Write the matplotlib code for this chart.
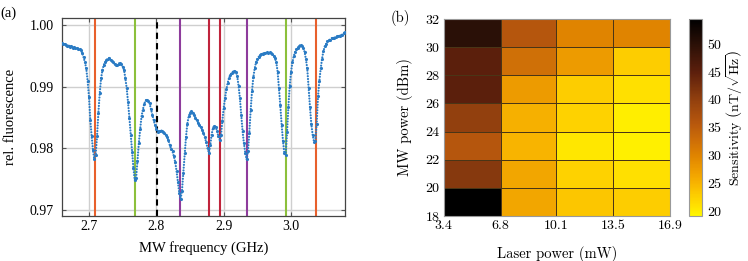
import matplotlib
matplotlib.use('Agg')
import matplotlib.pyplot as plt
import numpy as np
from matplotlib.colors import LinearSegmentedColormap, Normalize

# (a) ODMR spectrum
freq_ghz = [
  2.660, 2.662, 2.664, 2.666, 2.668, 2.670, 2.672, 2.674, 2.676, 2.678,
  2.680, 2.682, 2.684, 2.686, 2.688, 2.690, 2.692, 2.694, 2.696, 2.698,
  2.700, 2.702, 2.704, 2.706, 2.708, 2.710, 2.712, 2.714, 2.716, 2.718,
  2.720, 2.722, 2.724, 2.726, 2.728, 2.730, 2.732, 2.734, 2.736, 2.738,
  2.740, 2.742, 2.744, 2.746, 2.748, 2.750, 2.752, 2.754, 2.756, 2.758,
  2.760, 2.762, 2.764, 2.766, 2.768, 2.770, 2.772, 2.774, 2.776, 2.778,
  2.780, 2.782, 2.784, 2.786, 2.788, 2.790, 2.792, 2.794, 2.796, 2.798,
  2.800, 2.802, 2.804, 2.806, 2.808, 2.810, 2.812, 2.814, 2.816, 2.818,
  2.820, 2.822, 2.824, 2.826, 2.828, 2.830, 2.832, 2.834, 2.836, 2.838,
  2.840, 2.842, 2.844, 2.846, 2.848, 2.850, 2.852, 2.854, 2.856, 2.858,
  2.860, 2.862, 2.864, 2.866, 2.868, 2.870, 2.872, 2.874, 2.876, 2.878,
  2.880, 2.882, 2.884, 2.886, 2.888, 2.890, 2.892, 2.894, 2.896, 2.898,
  2.900, 2.902, 2.904, 2.906, 2.908, 2.910, 2.912, 2.914, 2.916, 2.918,
  2.920, 2.922, 2.924, 2.926, 2.928, 2.930, 2.932, 2.934, 2.936, 2.938,
  2.940, 2.942, 2.944, 2.946, 2.948, 2.950, 2.952, 2.954, 2.956, 2.958,
  2.960, 2.962, 2.964, 2.966, 2.968, 2.970, 2.972, 2.974, 2.976, 2.978,
  2.980, 2.982, 2.984, 2.986, 2.988, 2.990, 2.992, 2.994, 2.996, 2.998,
  3.000, 3.002, 3.004, 3.006, 3.008, 3.010, 3.012, 3.014, 3.016, 3.018,
  3.020, 3.022, 3.024, 3.026, 3.028, 3.030, 3.032, 3.034, 3.036, 3.038,
  3.040, 3.042, 3.044, 3.046, 3.048, 3.050, 3.052, 3.054, 3.056, 3.058,
  3.060, 3.062, 3.064, 3.066, 3.068, 3.070, 3.072, 3.074, 3.076, 3.078,
  3.080,
]
fluorescence = [
  0.9971, 0.9969, 0.9970, 0.9968, 0.9966, 0.9967, 0.9965, 0.9966, 0.9964, 0.9965,
  0.9963, 0.9964, 0.9962, 0.9961, 0.9960, 0.9955, 0.9948, 0.9940, 0.9930, 0.9910,
  0.9884, 0.9846, 0.9820, 0.9797, 0.9782, 0.9790, 0.9820, 0.9858, 0.9890, 0.9914,
  0.9927, 0.9936, 0.9940, 0.9944, 0.9946, 0.9947, 0.9944, 0.9942, 0.9940, 0.9937,
  0.9935, 0.9936, 0.9938, 0.9939, 0.9937, 0.9933, 0.9928, 0.9914, 0.9898, 0.9875,
  0.9850, 0.9822, 0.9794, 0.9768, 0.9748, 0.9752, 0.9780, 0.9808, 0.9831, 0.9852,
  0.9863, 0.9872, 0.9878, 0.9879, 0.9877, 0.9873, 0.9864, 0.9855, 0.9846, 0.9838,
  0.9832, 0.9827, 0.9828, 0.9828, 0.9829, 0.9827, 0.9825, 0.9822, 0.9818, 0.9813,
  0.9805, 0.9799, 0.9795, 0.9787, 0.9778, 0.9763, 0.9745, 0.9728, 0.9718, 0.9730,
  0.9760, 0.9792, 0.9818, 0.9840, 0.9852, 0.9858, 0.9860, 0.9858, 0.9854, 0.9850,
  0.9846, 0.9842, 0.9838, 0.9834, 0.9830, 0.9825, 0.9818, 0.9810, 0.9800, 0.9793,
  0.9805, 0.9822, 0.9833, 0.9837, 0.9835, 0.9829, 0.9820, 0.9814, 0.9822, 0.9845,
  0.9866, 0.9882, 0.9896, 0.9907, 0.9915, 0.9920, 0.9923, 0.9925, 0.9926, 0.9925,
  0.9918, 0.9902, 0.9882, 0.9855, 0.9828, 0.9808, 0.9793, 0.9782, 0.9795, 0.9825,
  0.9862, 0.9893, 0.9916, 0.9930, 0.9940, 0.9945, 0.9949, 0.9952, 0.9953, 0.9954,
  0.9955, 0.9955, 0.9956, 0.9955, 0.9956, 0.9955, 0.9953, 0.9951, 0.9947, 0.9940,
  0.9925, 0.9898, 0.9870, 0.9838, 0.9812, 0.9792, 0.9790, 0.9826, 0.9868, 0.9902,
  0.9925, 0.9940, 0.9950, 0.9957, 0.9961, 0.9964, 0.9967, 0.9968, 0.9967, 0.9964,
  0.9957, 0.9945, 0.9930, 0.9898, 0.9868, 0.9840, 0.9822, 0.9811, 0.9812, 0.9840,
  0.9885, 0.9910, 0.9930, 0.9946, 0.9958, 0.9966, 0.9970, 0.9974, 0.9976, 0.9977,
  0.9979, 0.9980, 0.9980, 0.9981, 0.9982, 0.9982, 0.9983, 0.9984, 0.9985, 0.9987,
  0.9990,
]
line_freqs = [2.709, 2.769, 2.8355, 2.878, 2.8948, 2.9344, 2.9918, 3.0363]
line_colors = ['#e8602c', '#8cc03c', '#8e3c9c', '#c0243c', '#c0243c',
               '#8e3c9c', '#8cc03c', '#e8602c']
center_freq = 2.8014

# (b) sensitivity map
laser_edges = [3.4, 6.8, 10.1, 13.5, 16.9]
mw_edges = [18, 20, 22, 24, 26, 28, 30, 32]
sensitivity = [
  [54.5, 26.5, 23.5, 23.0],   # 18-20 dBm
  [41.0, 26.5, 22.5, 21.0],   # 20-22
  [36.0, 25.0, 20.5, 19.8],   # 22-24
  [40.0, 25.5, 22.5, 20.0],   # 24-26
  [45.0, 27.5, 23.0, 21.0],   # 26-28
  [45.0, 32.5, 27.5, 23.0],   # 28-30
  [50.0, 36.0, 30.0, 30.0],   # 30-32
]

fig = plt.figure(figsize=(7.48, 2.61), dpi=100)

# ---- panel (a)
serif = 'Liberation Serif'
blue = '#2a7bc4'
ax1 = fig.add_axes([0.0829, 0.1724, 0.3783, 0.7586])
# dense dotted trace like the measured sweep
ax1.plot(freq_ghz, fluorescence, color=blue, lw=1.6, ls=(0, (0.01, 1.25)),
         dash_capstyle='round', zorder=3)
ax1.scatter(freq_ghz, fluorescence, s=5, color=blue, linewidths=0, zorder=3)
for f, c in zip(line_freqs, line_colors):
  ax1.axvline(f, color=c, lw=1.5, zorder=2)
ax1.axvline(center_freq, color='black', lw=1.5, ls=(0, (3, 2)), zorder=2)
ax1.set_xlim(2.66, 3.08)
ax1.set_ylim(0.969, 1.0012)
ax1.set_xticks([2.7, 2.8, 2.9, 3.0])
ax1.set_xticklabels(['2.7', '2.8', '2.9', '3.0'], fontfamily=serif, fontsize=10)
ax1.set_yticks([0.97, 0.98, 0.99, 1.00])
ax1.set_yticklabels(['0.97', '0.98', '0.99', '1.00'], fontfamily=serif, fontsize=10)
ax1.grid(True, color='#cfcfcf', lw=1, zorder=0)
ax1.tick_params(direction='in', length=3, color='#555555', top=True, right=True)
ax1.tick_params(axis='x', pad=3)
ax1.tick_params(axis='y', pad=6)
for sp in ax1.spines.values():
  sp.set_color('#444444')
  sp.set_linewidth(0.9)
ax1.set_xlabel('MW frequency (GHz)', fontfamily=serif, fontsize=10.5, labelpad=6)
ax1.set_ylabel('rel. fluorescence', fontfamily=serif, fontsize=10.5, labelpad=9)
fig.text(0.0, 0.95, '(a)', fontfamily=serif, fontsize=10.5, va='center')

# ---- panel (b)
plt.rcParams['mathtext.fontset'] = 'cm'
cm = 'cmr10'
nodes = [(19.2, '#fff700'), (21, '#ffe000'), (23, '#fdcc00'), (25, '#f8b400'),
         (27, '#f0a000'), (30, '#e08400'), (33, '#cc6c08'), (36, '#b5560d'),
         (40, '#92400e'), (45, '#5c1f0c'), (50, '#2b1007'), (54.5, '#000000')]
vmin, vmax = 19.2, 54.5
cmap = LinearSegmentedColormap.from_list(
  'sens', [((v - vmin) / (vmax - vmin), c) for v, c in nodes])
norm = Normalize(vmin=vmin, vmax=vmax)

ax2 = fig.add_axes([0.5932, 0.1724, 0.3025, 0.7548])
mesh = ax2.pcolormesh(laser_edges, mw_edges, np.array(sensitivity), cmap=cmap, norm=norm,
                      edgecolors='#4a3516', linewidth=0.6)
ax2.set_xticks(laser_edges)
ax2.set_xticklabels(['3.4', '6.8', '10.1', '13.5', '16.9'], fontfamily=cm, fontsize=10)
ax2.set_yticks(mw_edges)
ax2.set_yticklabels([str(v) for v in mw_edges], fontfamily=cm, fontsize=10)
ax2.tick_params(length=0, pad=3)
for sp in ax2.spines.values():
  sp.set_color('#999999')
  sp.set_linewidth(0.8)
ax2.set_xlabel('Laser power (mW)', fontfamily=cm, fontsize=10.5, labelpad=10)
ax2.set_ylabel('MW power (dBm)', fontfamily=cm, fontsize=10.5, labelpad=9)
fig.text(0.522, 0.93, '(b)', fontfamily=cm, fontsize=10.5, va='center')

cax = fig.add_axes([0.9211, 0.1724, 0.0174, 0.7548])
cb = fig.colorbar(mesh, cax=cax)
cb.set_ticks([20, 25, 30, 35, 40, 45, 50])
cb.ax.set_yticklabels(['20', '25', '30', '35', '40', '45', '50'], fontfamily=cm, fontsize=10)
cb.ax.tick_params(length=0, pad=4)
cb.outline.set_edgecolor('#999999')
cb.outline.set_linewidth(0.8)
cb.set_label(r'Sensitivity $\left(\mathrm{nT}/\sqrt{\mathrm{Hz}}\right)$',
             fontfamily=cm, fontsize=10, labelpad=2)

fig.savefig('out.png', dpi=100)
